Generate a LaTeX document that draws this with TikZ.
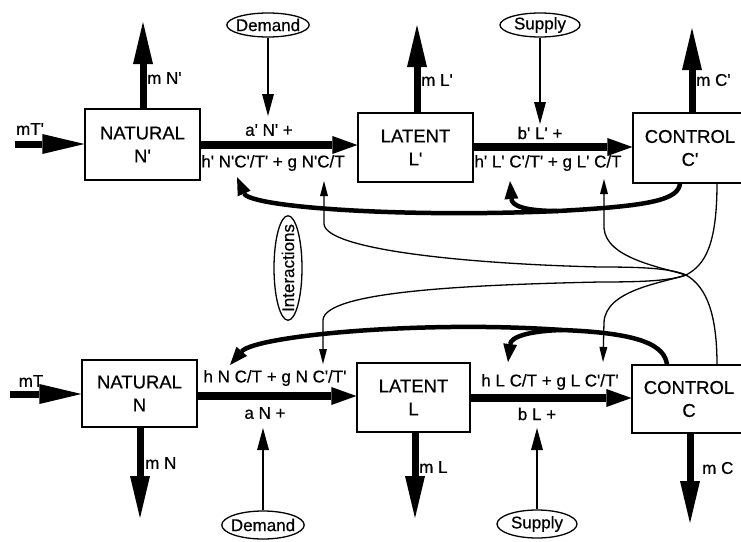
\documentclass[tikz,border=0pt]{standalone}
\usepackage{fontspec}
\setmainfont{Liberation Sans}[Ligatures=TeXOff, UprightFeatures={FakeBold=0.5}]
\usetikzlibrary{arrows.meta,shapes.geometric}
\begin{document}
\begin{tikzpicture}[x=1pt,y=-1pt,
  every node/.style={font=\fontsize{17}{23}\selectfont, inner sep=0pt},
  box/.style={draw, line width=1.2pt, align=center, font=\fontsize{18.5}{23}\selectfont},
  bigflow/.style={line width=8pt, -{Triangle[length=25pt,width=18pt,line width=0pt]}},
  mflow/.style={line width=7pt, -{Triangle[length=42pt,width=20pt,line width=0pt]}},
  fb/.style={line width=4.5pt, -{Triangle[length=18pt,width=14pt,line width=0pt]}},
  thinarr/.style={line width=1.3pt, -{Triangle[length=15pt,width=8pt,line width=0pt]}},
  srcarr/.style={line width=1.3pt, -{Triangle[length=22pt,width=12pt,line width=0pt]}},
  oval/.style={draw, ellipse, line width=1.3pt, inner xsep=-3pt, inner ysep=0pt, minimum width=80pt, minimum height=#1},
  oval/.default=24pt
]
\clip (0,0) rectangle (741,541);
\fill[white] (0,0) rectangle (741,541);

% ---------- top row ----------
\node[box, minimum width=115pt, minimum height=71pt] (Np) at (142.5,144.5) {NATURAL\\N'};
\node[box, minimum width=115pt, minimum height=69pt] (Lp) at (415.5,147.5) {LATENT\\L'};
\node[box, minimum width=114pt, minimum height=70pt] (Cp) at (690,148) {CONTROL\\C'};

\coordinate (mTpS) at (15,144);
\draw[mflow] (mTpS) -- (Np.west |- mTpS);
\node (lmTp) at (30,129) {mT'};

\draw[bigflow] (Np.east |- 0,145) -- (Lp.west |- 0,145);
\draw[bigflow] (Lp.east |- 0,147) -- (Cp.west |- 0,147);

\coordinate (mNpT) at (143,22);
\draw[mflow] (Np.north -| mNpT) -- (mNpT);
\node[anchor=west] (lmNp) at (147,78) {m N'};
\coordinate (mLpT) at (417,25);
\draw[mflow] (Lp.north -| mLpT) -- (mLpT);
\node[anchor=west] (lmLp) at (421,80) {m L'};
\coordinate (mCpT) at (692,28);
\draw[mflow] (Cp.north -| mCpT) -- (mCpT);
\node[anchor=west] (lmCp) at (696,80) {m C'};

\node[oval] (Dp) at (268,25) {Demand};
\coordinate (DpT) at (268,116);
\draw[srcarr] (Dp) -- (DpT);
\node[oval] (Sp) at (540,25) {Supply};
\coordinate (SpT) at (540,124);
\draw[srcarr] (Sp) -- (SpT);

\node (lap) at (269,130) {a' N' +};
\node (lhp) at (273,163) {h' N'C'/T' + g N'C/T};
\node (lbp) at (540,133) {b' L' +};
\node (lhlp) at (548,163) {h' L' C'/T' + g L' C/T};

% ---------- bottom row ----------
\node[box, minimum width=115pt, minimum height=67pt] (N) at (139.5,393.5) {NATURAL\\N};
\node[box, minimum width=113pt, minimum height=69pt] (L) at (413.5,397.5) {LATENT\\L};
\node[box, minimum width=114pt, minimum height=68pt] (C) at (689,399) {CONTROL\\C};

\coordinate (mTS) at (10,394);
\draw[mflow] (mTS) -- (N.west |- mTS);
\node (lmT) at (31,381) {mT};

\draw[bigflow] (N.east |- 0,396) -- (L.west |- 0,396);
\draw[bigflow] (L.east |- 0,398) -- (C.west |- 0,398);

\coordinate (mNB) at (140,518);
\draw[mflow] (N.south -| mNB) -- (mNB);
\node[anchor=west] (lmN) at (145,463) {m N};
\coordinate (mLB) at (415,518);
\draw[mflow] (L.south -| mLB) -- (mLB);
\node[anchor=west] (lmL) at (419,467) {m L};
\coordinate (mCB) at (690,523);
\draw[mflow] (C.south -| mCB) -- (mCB);
\node[anchor=west] (lmC) at (702,468) {m C};

\node[oval=28pt] (D) at (263,525) {Demand};
\coordinate (DT) at (263,428);
\draw[srcarr] (D) -- (DT);
\node[oval=28pt] (S) at (537,524) {Supply};
\coordinate (ST) at (537,428);
\draw[srcarr] (S) -- (ST);

\node (lh) at (275,378) {h N C/T + g N C'/T'};
\node (la) at (265,413) {a N +};
\node (lhl) at (550,382) {h L C/T + g L C'/T'};
\node (lb) at (537,414) {b L +};

% ---------- interactions ----------
\node[draw, ellipse, line width=1.3pt, rotate=90, inner xsep=-7pt, inner ysep=0pt, minimum height=28pt] (I) at (288,268) {Interactions};

% ---------- thick feedback arrows ----------
\coordinate (cpOut) at (680,183);
\coordinate (jt) at (558,211);
\coordinate (fbA) at (237,177);
\coordinate (fbB) at (510,181);
\draw[fb] (cpOut) .. controls (679,200) and (650,206) .. (jt)
  .. controls (400,218) and (250,207) .. (fbA);
\draw[fb] (jt) .. controls (525,211) and (512,206) .. (fbB);

\coordinate (cOut) at (667,365);
\coordinate (jb) at (562,330);
\coordinate (fbC) at (230,365);
\coordinate (fbD) at (508,362);
\draw[fb] (cOut) .. controls (665,345) and (640,333) .. (jb)
  .. controls (420,320) and (255,336) .. (fbC);
\draw[fb] (jb) .. controls (528,331) and (511,337) .. (fbD);

% ---------- thin interaction curves ----------
\coordinate (cTop) at (717,365);
\coordinate (cpBot) at (717,183);
\coordinate (xc) at (686,275);
\coordinate (tgN) at (324,181);
\coordinate (tgL) at (604,179);
\coordinate (bgN) at (323,364);
\coordinate (bgL) at (603,362);
\draw[thinarr] (cTop) .. controls (717,315) and (707,287) .. (xc)
  .. controls (670,268) and (640,267) .. (600,267)
  .. controls (470,264) and (326,250) .. (324,224) -- (tgN);
\draw[thinarr] (xc) .. controls (660,267) and (606,258) .. (604,228) -- (tgL);
\draw[thinarr] (cpBot) .. controls (717,245) and (705,265) .. (xc)
  .. controls (670,281) and (640,282) .. (600,282)
  .. controls (460,285) and (325,292) .. (323,320) -- (bgN);
\draw[thinarr] (xc) .. controls (662,283) and (606,290) .. (604,322) -- (bgL);
\end{tikzpicture}
\end{document}
